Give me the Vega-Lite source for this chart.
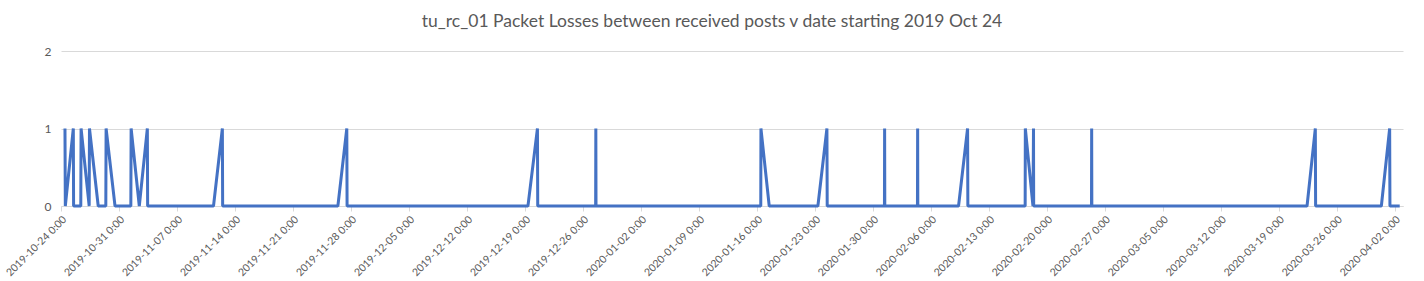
{
  "$schema": "https://vega.github.io/schema/vega-lite/v6.json",
  "width": 1342,
  "height": 155,
  "autosize": {"type": "none"},
  "padding": {"left": 61, "top": 51, "right": 21, "bottom": 75},
  "background": "#ffffff",
  "title": {
    "text": "tu_rc_01 Packet Losses between received posts v date starting 2019 Oct 24",
    "fontSize": 17.5,
    "fontWeight": "normal",
    "font": "Lato",
    "color": "#595959",
    "anchor": "middle",
    "offset": 15,
    "dx": -20
  },
  "config": {
    "font": "Lato",
    "view": {"stroke": null}
  },
  "data": {
    "values": [
      {"t": "2019-10-24T11:30:00", "v": 1},
      {"t": "2019-10-24T12:30:00", "v": 0},
      {"t": "2019-10-25T11:40:00", "v": 1},
      {"t": "2019-10-25T12:30:00", "v": 0},
      {"t": "2019-10-26T09:20:00", "v": 0},
      {"t": "2019-10-26T10:10:00", "v": 1},
      {"t": "2019-10-27T09:40:00", "v": 0},
      {"t": "2019-10-27T10:30:00", "v": 1},
      {"t": "2019-10-28T11:50:00", "v": 0},
      {"t": "2019-10-29T09:50:00", "v": 0},
      {"t": "2019-10-29T10:40:00", "v": 1},
      {"t": "2019-10-30T12:30:00", "v": 0},
      {"t": "2019-11-01T10:20:00", "v": 0},
      {"t": "2019-11-01T11:10:00", "v": 1},
      {"t": "2019-11-02T10:50:00", "v": 0},
      {"t": "2019-11-03T10:10:00", "v": 1},
      {"t": "2019-11-03T11:00:00", "v": 0},
      {"t": "2019-11-11T09:50:00", "v": 0},
      {"t": "2019-11-12T11:30:00", "v": 1},
      {"t": "2019-11-12T12:20:00", "v": 0},
      {"t": "2019-11-26T10:10:00", "v": 0},
      {"t": "2019-11-27T12:00:00", "v": 1},
      {"t": "2019-11-27T12:50:00", "v": 0},
      {"t": "2019-12-19T08:50:00", "v": 0},
      {"t": "2019-12-20T12:20:00", "v": 1},
      {"t": "2019-12-20T13:10:00", "v": 0},
      {"t": "2019-12-27T13:00:00", "v": 0},
      {"t": "2019-12-27T13:30:00", "v": 1},
      {"t": "2019-12-27T14:00:00", "v": 0},
      {"t": "2020-01-16T11:20:00", "v": 0},
      {"t": "2020-01-16T11:50:00", "v": 1},
      {"t": "2020-01-17T11:50:00", "v": 0},
      {"t": "2020-01-23T08:50:00", "v": 0},
      {"t": "2020-01-24T11:00:00", "v": 1},
      {"t": "2020-01-24T11:50:00", "v": 0},
      {"t": "2020-01-31T09:40:00", "v": 0},
      {"t": "2020-01-31T10:10:00", "v": 1},
      {"t": "2020-01-31T10:40:00", "v": 0},
      {"t": "2020-02-04T09:20:00", "v": 0},
      {"t": "2020-02-04T09:50:00", "v": 1},
      {"t": "2020-02-04T10:20:00", "v": 0},
      {"t": "2020-02-09T08:20:00", "v": 0},
      {"t": "2020-02-10T10:30:00", "v": 1},
      {"t": "2020-02-10T11:20:00", "v": 0},
      {"t": "2020-02-17T09:20:00", "v": 0},
      {"t": "2020-02-17T09:50:00", "v": 1},
      {"t": "2020-02-18T08:00:00", "v": 0},
      {"t": "2020-02-18T09:30:00", "v": 1},
      {"t": "2020-02-18T10:00:00", "v": 0},
      {"t": "2020-02-25T09:30:00", "v": 0},
      {"t": "2020-02-25T10:00:00", "v": 1},
      {"t": "2020-02-25T10:30:00", "v": 0},
      {"t": "2020-03-22T10:00:00", "v": 0},
      {"t": "2020-03-23T10:00:00", "v": 1},
      {"t": "2020-03-23T10:50:00", "v": 0},
      {"t": "2020-03-31T09:20:00", "v": 0},
      {"t": "2020-04-01T09:20:00", "v": 1},
      {"t": "2020-04-01T10:10:00", "v": 0},
      {"t": "2020-04-02T14:30:00", "v": 0}
    ]
  },
  "mark": {"type": "line", "color": "#4472C4", "strokeWidth": 3, "strokeJoin": "bevel", "clip": false},
  "encoding": {
    "x": {
      "field": "t",
      "type": "temporal",
      "title": null,
      "scale": {
        "domain": [
          {"year": 2019, "month": 10, "date": 24},
          {"year": 2020, "month": 4, "date": 3}
        ]
      },
      "axis": {
        "values": [
          {"year": 2019, "month": 10, "date": 24},
          {"year": 2019, "month": 10, "date": 31},
          {"year": 2019, "month": 11, "date": 7},
          {"year": 2019, "month": 11, "date": 14},
          {"year": 2019, "month": 11, "date": 21},
          {"year": 2019, "month": 11, "date": 28},
          {"year": 2019, "month": 12, "date": 5},
          {"year": 2019, "month": 12, "date": 12},
          {"year": 2019, "month": 12, "date": 19},
          {"year": 2019, "month": 12, "date": 26},
          {"year": 2020, "month": 1, "date": 2},
          {"year": 2020, "month": 1, "date": 9},
          {"year": 2020, "month": 1, "date": 16},
          {"year": 2020, "month": 1, "date": 23},
          {"year": 2020, "month": 1, "date": 30},
          {"year": 2020, "month": 2, "date": 6},
          {"year": 2020, "month": 2, "date": 13},
          {"year": 2020, "month": 2, "date": 20},
          {"year": 2020, "month": 2, "date": 27},
          {"year": 2020, "month": 3, "date": 5},
          {"year": 2020, "month": 3, "date": 12},
          {"year": 2020, "month": 3, "date": 19},
          {"year": 2020, "month": 3, "date": 26},
          {"year": 2020, "month": 4, "date": 2}
        ],
        "format": "%Y-%m-%d %-H:%M",
        "labelAngle": -45,
        "labelFontSize": 10.5,
        "labelColor": "#595959",
        "labelPadding": 3,
        "labelOverlap": false,
        "labelFlush": false,
        "grid": false,
        "domainColor": "#d9d9d9",
        "domainWidth": 1,
        "tickColor": "#d9d9d9",
        "tickSize": 5
      }
    },
    "y": {
      "field": "v",
      "type": "quantitative",
      "title": null,
      "scale": {"domain": [0, 2], "nice": false, "zero": true},
      "axis": {
        "tickCount": 2,
        "labelFontSize": 12,
        "labelColor": "#595959",
        "labelPadding": 10,
        "labelOverlap": false,
        "labelFlush": false,
        "domain": false,
        "ticks": false,
        "grid": true,
        "gridColor": "#d9d9d9",
        "gridWidth": 1
      }
    }
  }
}
